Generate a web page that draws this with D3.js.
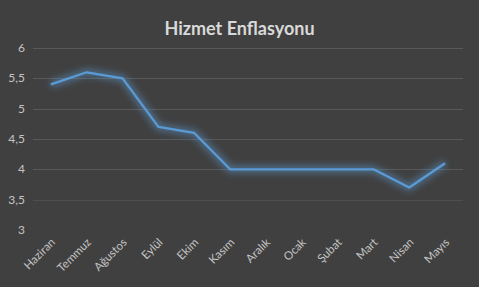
<!DOCTYPE html>
<html>
<head>
<meta charset="utf-8">
<script src="https://cdn.jsdelivr.net/npm/d3@7"></script>
<style>
  body { margin: 0; background: #404040; }
  svg { display: block; }
</style>
</head>
<body>
<div id="chart"></div>
<script>
const months = ["Haziran", "Temmuz", "Ağustos", "Eylül", "Ekim", "Kasım", "Aralık", "Ocak", "Şubat", "Mart", "Nisan", "Mayıs"];
const values = [5.4, 5.6, 5.5, 4.7, 4.6, 4.0, 4.0, 4.0, 4.0, 4.0, 3.7, 4.1];
const yTicks = [3, 3.5, 4, 4.5, 5, 5.5, 6];

const width = 479, height = 287;
const margin = {top: 48, right: 16, bottom: 57, left: 33};

const svg = d3.select("#chart").append("svg")
    .attr("width", width)
    .attr("height", height);

svg.append("rect").attr("width", width).attr("height", height).attr("fill", "#404040");

const defs = svg.append("defs");
const glow = defs.append("filter").attr("id", "glow")
    .attr("x", "-20%").attr("y", "-50%").attr("width", "140%").attr("height", "200%");
glow.append("feGaussianBlur").attr("in", "SourceGraphic").attr("stdDeviation", 3.5);

// fade for the grid near the bottom
const fade = defs.append("linearGradient").attr("id", "fade")
    .attr("x1", 0).attr("y1", 0).attr("x2", 0).attr("y2", 1);
fade.append("stop").attr("offset", "0.7").attr("stop-color", "#585858");
fade.append("stop").attr("offset", "1").attr("stop-color", "#404040");

const x = d3.scaleBand()
    .domain(months)
    .range([margin.left, width - margin.right]);

const y = d3.scaleLinear()
    .domain([3, 6])
    .range([height - margin.bottom, margin.top]);

// title
svg.append("text")
    .attr("x", width / 2)
    .attr("y", 35)
    .attr("text-anchor", "middle")
    .attr("font-family", "Lato, 'Open Sans', sans-serif")
    .attr("font-weight", "bold")
    .attr("font-size", 18)
    .attr("fill", "#d9d9d9")
    .text("Hizmet Enflasyonu");

// grid
const grid = svg.append("g");
grid.selectAll("line.h")
    .data(yTicks.filter(d => d > 3))
    .join("line")
    .attr("x1", margin.left)
    .attr("x2", width - margin.right)
    .attr("y1", d => Math.round(y(d)) + 0.5)
    .attr("y2", d => Math.round(y(d)) + 0.5)
    .attr("stroke", d => d == 3.5 ? "#4e4e4e" : "#585858");

const vx = months.map(m => x(m)).concat([x.range()[1]]);
grid.selectAll("line.v")
    .data(vx)
    .join("line")
    .attr("x1", d => Math.round(d) + 0.5)
    .attr("x2", d => Math.round(d) + 0.5)
    .attr("y1", margin.top)
    .attr("y2", height - margin.bottom)
    .attr("stroke", "url(#fade)");

// y axis labels
svg.append("g")
    .selectAll("text")
    .data(yTicks)
    .join("text")
    .attr("x", 25)
    .attr("y", d => y(d) + 4)
    .attr("text-anchor", "end")
    .attr("font-family", "Lato, 'Open Sans', sans-serif")
    .attr("font-size", 12)
    .attr("fill", "#c4c4c4")
    .text(d => String(d).replace(".", ","));

// x axis labels
svg.append("g")
    .selectAll("text")
    .data(months)
    .join("text")
    .attr("transform", d => `translate(${x(d) + x.bandwidth() / 2 + 5},${height - margin.bottom + 13}) rotate(-45)`)
    .attr("text-anchor", "end")
    .attr("font-family", "Lato, 'Open Sans', sans-serif")
    .attr("font-size", 11.5)
    .attr("fill", "#c4c4c4")
    .text(d => d);

// line
const line = d3.line()
    .x((d, i) => x(months[i]) + x.bandwidth() / 2)
    .y(d => y(d));

// soft halo under the line
svg.append("path")
    .datum(values)
    .attr("d", line)
    .attr("fill", "none")
    .attr("stroke", "#5b9bd5")
    .attr("stroke-opacity", 0.6)
    .attr("stroke-width", 6)
    .attr("stroke-linejoin", "round")
    .attr("filter", "url(#glow)");

svg.append("path")
    .datum(values)
    .attr("d", line)
    .attr("fill", "none")
    .attr("stroke", "#5b9bd5")
    .attr("stroke-width", 2.25)
    .attr("stroke-linejoin", "round");
</script>
</body>
</html>
